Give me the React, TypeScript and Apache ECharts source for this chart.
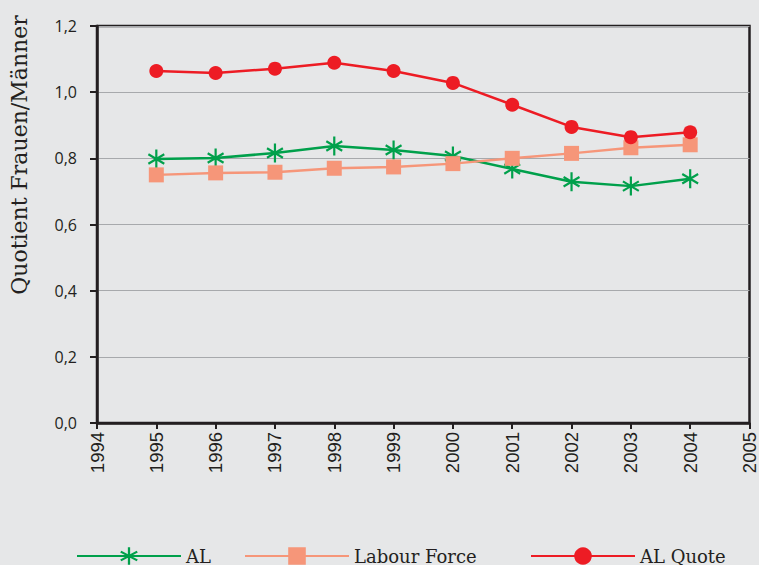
import React, { useEffect, useRef } from "react";
import * as echarts from "echarts";

const years = [1995, 1996, 1997, 1998, 1999, 2000, 2001, 2002, 2003, 2004];
const alValues = [0.798, 0.801, 0.816, 0.837, 0.825, 0.807, 0.768, 0.729, 0.716, 0.738];
const labourForceValues = [0.75, 0.756, 0.758, 0.77, 0.774, 0.784, 0.8, 0.815, 0.832, 0.841];
const alQuoteValues = [1.064, 1.058, 1.071, 1.089, 1.064, 1.028, 0.962, 0.895, 0.864, 0.879];
const seriesNames = ["AL", "Labour Force", "AL Quote"];
const yAxisTitle = "Quotient Frauen/Männer";

const STAR =
  "path://M8.8 0 L11.2 0 L11.2 20 L8.8 20 Z M1.94 3.96 L19.26 13.96 L18.06 16.04 L0.74 6.04 Z M0.74 13.96 L18.06 3.96 L19.26 6.04 L1.94 16.04 Z";

const DARK = "#231f20";
const BG = "#e6e7e8";

export default function App() {
  const ref = useRef<HTMLDivElement>(null);
  useEffect(() => {
    document.body.style.margin = "0";
    document.body.style.background = BG;
    const chart = echarts.init(ref.current!, null, { renderer: "svg" });
    const pairs = (vals: number[]) => years.map((y, i) => [y, vals[i]]);
    const legendText = { fontFamily: "DejaVu Serif", fontSize: 18, color: DARK };
    const legendBase = { top: 542, itemWidth: 104, itemHeight: 22, itemGap: 0, textStyle: legendText };
    chart.setOption({
      animation: false,
      backgroundColor: BG,
      grid: {
        left: 97,
        right: 7,
        top: 26,
        bottom: 142,
        show: true,
        borderColor: DARK,
        borderWidth: 2.5,
        backgroundColor: "transparent",
      },
      xAxis: {
        type: "value",
        min: 1994,
        max: 2005,
        interval: 1,
        axisLine: { show: true, lineStyle: { color: DARK, width: 2.5 } },
        axisTick: { show: true, length: 6, lineStyle: { color: DARK, width: 2 } },
        splitLine: { show: false },
        axisLabel: {
          rotate: 90,
          margin: 9,
          fontFamily: "Liberation Sans",
          fontSize: 18.5,
          color: DARK,
          formatter: (v: number) => String(v),
        },
      },
      yAxis: {
        type: "value",
        min: 0,
        max: 1.2,
        interval: 0.2,
        axisLine: { show: true, lineStyle: { color: DARK, width: 2.5 } },
        axisTick: { show: true, length: 7, lineStyle: { color: DARK, width: 2 } },
        splitLine: { show: true, lineStyle: { color: "#a7a9ac", width: 1.2 } },
        axisLabel: {
          margin: 20,
          fontFamily: "Open Sans",
          fontSize: 16,
          color: DARK,
          formatter: (v: number) => v.toFixed(1).replace(".", ","),
        },
      },
      legend: [
        { ...legendBase, data: [seriesNames[0]], left: 71 },
        { ...legendBase, data: [seriesNames[1]], left: 239 },
        { ...legendBase, data: [seriesNames[2]], left: 525 },
      ],
      graphic: [
        {
          type: "text",
          x: 19,
          y: 155,
          rotation: Math.PI / 2,
          style: {
            text: yAxisTitle,
            fontFamily: "DejaVu Serif",
            fontSize: 22,
            fill: DARK,
            align: "center",
            verticalAlign: "middle",
          },
        },
      ],
      series: [
        {
          name: seriesNames[0],
          type: "line",
          data: pairs(alValues),
          symbol: STAR,
          symbolSize: [17, 19],
          color: "#00a04b",
          lineStyle: { width: 2.5, color: "#00a04b" },
          itemStyle: { color: "#00a04b" },
        },
        {
          name: seriesNames[1],
          type: "line",
          data: pairs(labourForceValues),
          symbol: "rect",
          symbolSize: 15,
          color: "#f69679",
          lineStyle: { width: 2.5, color: "#f69679" },
          itemStyle: { color: "#f69679" },
        },
        {
          name: seriesNames[2],
          type: "line",
          data: pairs(alQuoteValues),
          symbol: "circle",
          symbolSize: 14,
          color: "#ed1c24",
          lineStyle: { width: 2.5, color: "#ed1c24" },
          itemStyle: { color: "#ed1c24" },
        },
      ],
    });
    return () => chart.dispose();
  }, []);
  return <div ref={ref} style={{ width: 759, height: 565 }} />;
}
